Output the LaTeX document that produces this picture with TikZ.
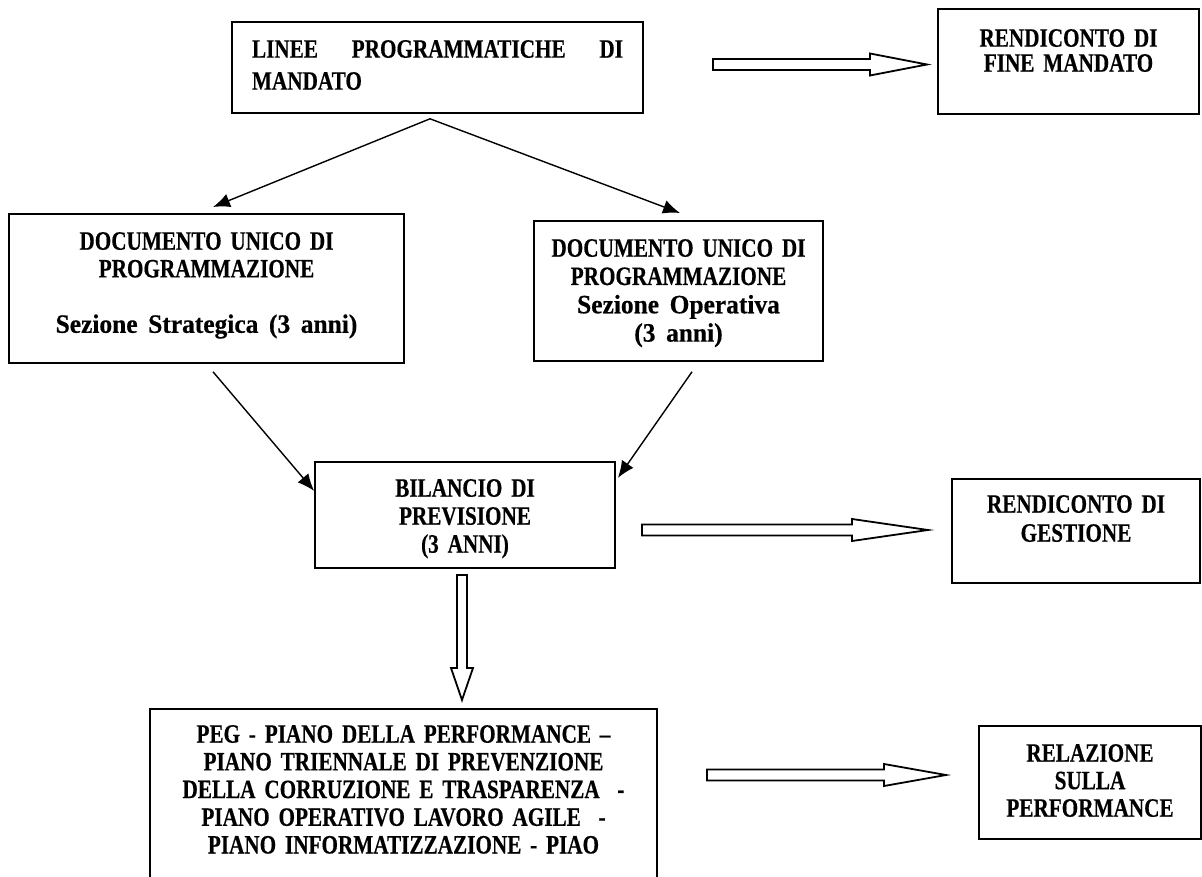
\documentclass[tikz,border=0pt]{standalone}
\usepackage{fontspec}
\setmainfont{Liberation Serif}[FakeStretch=0.8, BoldFeatures={FakeBold=0.4}]
\usepackage{graphicx}
\usetikzlibrary{arrows.meta}
\tikzset{
  box/.style={draw=black, line width=1.8pt, inner xsep=0pt, inner ysep=0pt, align=center, anchor=north},
  conn/.style={line width=1.4pt, -{Latex[length=17pt,width=14pt]}},
  blk/.style={draw=black, line width=1.8pt, fill=white, line join=miter},
  pics/rblock/.style n args={2}{code={\draw[blk] (0,5.5) -- (#1,5.5) -- (#1,11) -- (#2,0) -- (#1,-11) -- (#1,-5.5) -- (0,-5.5) -- cycle;}},
  pics/dblock/.style n args={2}{code={\draw[blk] (-5,0) -- (-5,-#1) -- (-11,-#1) -- (0,-#2) -- (11,-#1) -- (5,-#1) -- (5,0) -- cycle;}}
}
\newcommand{\lc}[1]{\scalebox{1.2}[1]{#1}}
\begin{document}
\begin{tikzpicture}[x=1pt,y=1pt]
\useasboundingbox (0,0) rectangle (1202,-877);
\fill[white] (0,0) rectangle (1202,-877);
\clip (0,0) rectangle (1202,-877);

\node[box, inner xsep=20pt, text width=371pt, align=left, text height=35.8pt, text depth=55.2pt,
      font=\bfseries\fontsize{26.5}{32}\selectfont] (linee) at (437.5,-21)
  {\makebox[371pt]{LINEE\hfill PROGRAMMATICHE\hfill DI}\\MANDATO};

\node[box, text width=261pt, text height=37.8pt, text depth=67.2pt,
      font=\bfseries\fontsize{26.5}{25}\selectfont] (fine) at (1068.5,-8)
  {RENDICONTO DI\\FINE MANDATO};

\node[box, text width=395pt, text height=35.8pt, text depth=113.2pt,
      font=\bfseries\fontsize{26.5}{27.7}\selectfont] (dups) at (206.5,-213)
  {DOCUMENTO UNICO DI\\PROGRAMMAZIONE\\\mbox{}\\\lc{Sezione Strategica (3 anni)}};

\node[box, text width=289pt, text height=35.8pt, text depth=104.2pt,
      font=\bfseries\fontsize{26.5}{28.3}\selectfont] (dupo) at (678.5,-220)
  {DOCUMENTO UNICO DI\\PROGRAMMAZIONE\\\lc{Sezione Operativa}\\\lc{(3 anni)}};

\node[box, text width=300pt, text height=34.8pt, text depth=71.2pt,
      font=\bfseries\fontsize{26.5}{28}\selectfont] (bil) at (465,-461)
  {BILANCIO DI\\PREVISIONE\\(3 ANNI)};

\node[box, text width=248pt, text height=33.8pt, text depth=70.2pt,
      font=\bfseries\fontsize{26.5}{29}\selectfont] (gest) at (1076,-478)
  {RENDICONTO DI\\GESTIONE};

\node[box, text width=507pt, text height=33.8pt, text depth=148.2pt,
      font=\bfseries\fontsize{26.5}{27.7}\selectfont] (peg) at (403.5,-708)
  {PEG - PIANO DELLA PERFORMANCE –\\PIANO TRIENNALE DI PREVENZIONE\\DELLA CORRUZIONE E TRASPARENZA~~-\\PIANO OPERATIVO LAVORO AGILE~~-\\PIANO INFORMATIZZAZIONE - PIAO};

\node[box, text width=222pt, text height=35.8pt, text depth=77.2pt,
      font=\bfseries\fontsize{26.5}{27.5}\selectfont] (rel) at (1090,-725)
  {RELAZIONE\\SULLA\\PERFORMANCE};

\coordinate (apex) at ([xshift=-7.5pt,yshift=-5pt]linee.south);
\draw[conn] (apex) -- ([xshift=6.5pt,yshift=6pt]dups.north);
\draw[conn] (apex) -- ([xshift=1.5pt,yshift=7pt]dupo.north);
\draw[conn] ([xshift=6.5pt,yshift=-8pt]dups.south) -- ([yshift=24pt]bil.west);
\draw[conn] ([xshift=13.5pt,yshift=-10pt]dupo.south) -- ([xshift=2pt,yshift=37pt]bil.east);

\pic at (713,-64.5) {rblock={157}{214}};
\pic at (642,-530) {rblock={210}{286}};
\pic at (707,-775) {rblock={177}{239}};
\pic at (462,-575) {dblock={93}{125}};
\end{tikzpicture}
\end{document}
